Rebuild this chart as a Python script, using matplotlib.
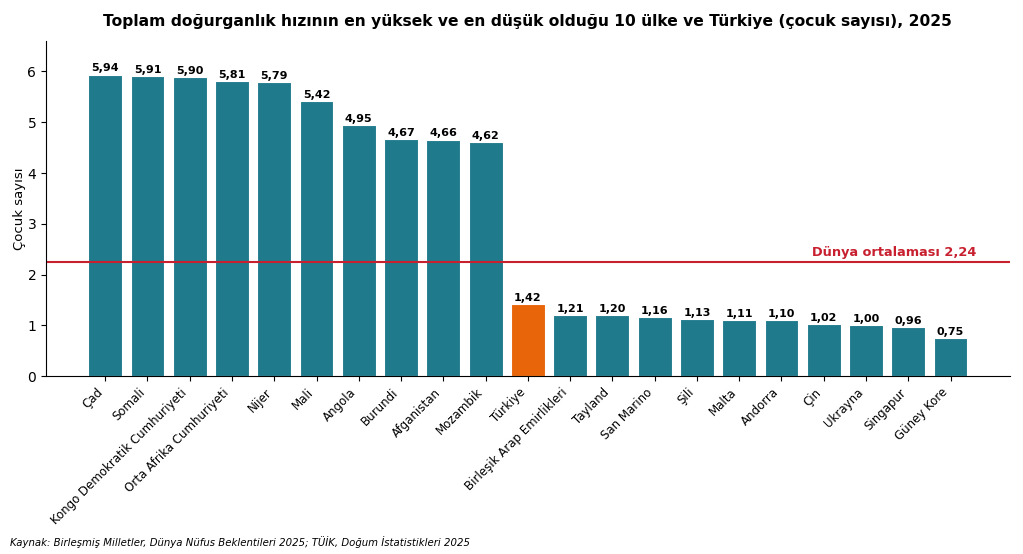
import matplotlib.pyplot as plt
import numpy as np

countries = ["Çad", "Somali", "Kongo Demokratik Cumhuriyeti", "Orta Afrika Cumhuriyeti",
             "Nijer", "Mali", "Angola", "Burundi", "Afganistan", "Mozambik", "Türkiye",
             "Birleşik Arap Emirlikleri", "Tayland", "San Marino", "Şili", "Malta",
             "Andorra", "Çin", "Ukrayna", "Singapur", "Güney Kore"]
values = [5.94, 5.91, 5.90, 5.81, 5.79, 5.42, 4.95, 4.67, 4.66, 4.62, 1.42,
          1.21, 1.20, 1.16, 1.13, 1.11, 1.10, 1.02, 1.00, 0.96, 0.75]
world_avg = 2.24

teal = "#1f7a8c"
orange = "#e8650a"
red = "#c8202f"

colors = [orange if c == "Türkiye" else teal for c in countries]

fig = plt.figure(figsize=(10.23, 5.54), dpi=100)
ax = fig.add_axes([0.045, 0.321, 0.942, 0.605])

x = np.arange(len(countries))
bars = ax.bar(x, values, width=0.8, color=colors, edgecolor="white", linewidth=0.8)

for xi, v in zip(x, values):
    ax.text(xi, v + 0.02, f"{v:.2f}".replace(".", ","), ha="center", va="bottom",
            fontsize=8, fontweight="bold")

ax.axhline(world_avg, color=red, linewidth=1.5)
ax.text(len(countries) - 0.4, world_avg + 0.06, f"Dünya ortalaması {world_avg:.2f}".replace(".", ","),
        color=red, fontsize=9.3, fontweight="bold", ha="right", va="bottom")

ax.set_xticks(x)
ax.set_xticklabels(countries, rotation=45, ha="right", fontsize=8.5)
ax.set_xlim(-1.4, len(countries) - 1 + 1.4)
ax.set_ylim(0, 6.6)
ax.set_ylabel("Çocuk sayısı", fontsize=9.5, labelpad=1)
ax.spines["top"].set_visible(False)
ax.spines["right"].set_visible(False)

ax.set_title("Toplam doğurganlık hızının en yüksek ve en düşük olduğu 10 ülke ve Türkiye (çocuk sayısı), 2025",
             fontsize=11.2, fontweight="bold", pad=11)
fig.text(0.01, 0.015, "Kaynak: Birleşmiş Milletler, Dünya Nüfus Beklentileri 2025; TÜİK, Doğum İstatistikleri 2025",
         fontsize=7.25, style="italic")

fig.savefig("out.png", dpi=100)
